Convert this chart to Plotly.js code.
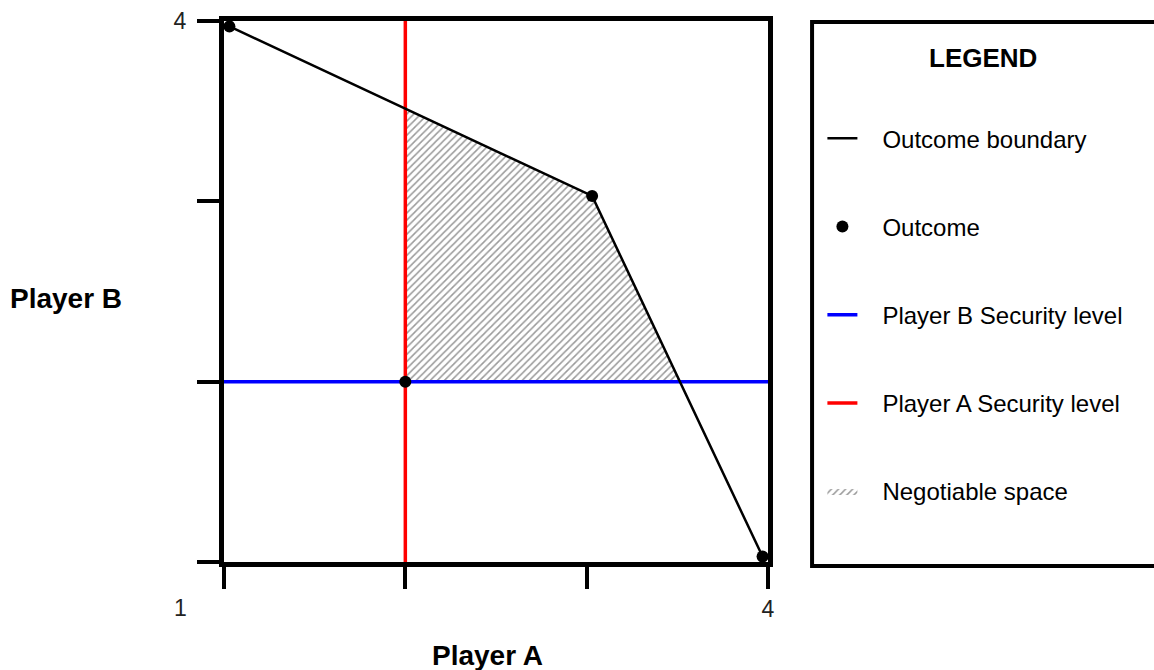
<!DOCTYPE html>
<html>
<head>
<meta charset="utf-8">
<script src="https://cdn.plot.ly/plotly-3.0.1.min.js"></script>
<style>html,body{margin:0;padding:0;background:#fff;}#chart{width:1154px;height:670px;}</style>
</head>
<body>
<div id="chart"></div>
<script>
// ---- data ----
const boundaryA = [1.03, 3.03, 3.97];      // outcome boundary, Player A payoff
const boundaryB = [3.97, 3.03, 1.03];      // outcome boundary, Player B payoff
const outcomeA  = [1.03, 3.03, 2, 3.97];   // outcomes, Player A payoff
const outcomeB  = [3.97, 3.03, 2, 1.03];   // outcomes, Player B payoff
const securityA = 2;                       // Player A security level
const securityB = 2;                       // Player B security level
const axisRange = [1, 4];
const tickVals  = [1, 2, 3, 4];
const tickText  = ['', '', '', '4'];
const originLabel = '1';
const legendNames = ['Outcome boundary', 'Outcome', 'Player B Security level', 'Player A Security level', 'Negotiable space'];

// negotiable space: region above both security levels and below the boundary
function interpY(x0, y0, x1, y1, x) { return y0 + (x - x0) * (y1 - y0) / (x1 - x0); }
function interpX(x0, y0, x1, y1, y) { return x0 + (y - y0) * (x1 - x0) / (y1 - y0); }
const topY = interpY(boundaryA[0], boundaryB[0], boundaryA[1], boundaryB[1], securityA);
const rightX = interpX(boundaryA[1], boundaryB[1], boundaryA[2], boundaryB[2], securityB);
const negA = [securityA, securityA, boundaryA[1], rightX, securityA];
const negB = [securityB, topY, boundaryB[1], securityB, securityB];

const FONT = 'Liberation Sans, Arial, sans-serif';
const pad = '\u00a0\u00a0\u00a0';

const traces = [
  {
    name: pad + legendNames[4], x: negA, y: negB, mode: 'lines', fill: 'toself',
    fillcolor: 'white',
    fillpattern: {shape: '/', fgcolor: '#9a9a9a', bgcolor: 'white', size: 5, solidity: 0.3},
    line: {color: 'rgba(120,120,120,0)', width: 0},
    legendgroup: 'g5', legendrank: 5, hoverinfo: 'skip'
  },
  {
    name: pad + legendNames[2], x: axisRange, y: [securityB, securityB], mode: 'lines',
    line: {color: '#0000ff', width: 3.5}, legendgroup: 'g3', legendrank: 3
  },
  {
    name: pad + legendNames[3], x: [securityA, securityA], y: axisRange, mode: 'lines',
    line: {color: '#ff0000', width: 3.5}, legendgroup: 'g4', legendrank: 4
  },
  {
    name: pad + legendNames[0], x: boundaryA, y: boundaryB, mode: 'lines',
    line: {color: '#000000', width: 2.5}, legendgroup: 'g1', legendrank: 1
  },
  {
    name: pad + legendNames[1], x: outcomeA, y: outcomeB, mode: 'markers',
    marker: {color: '#000000', size: 12}, legendgroup: 'g2', legendrank: 2
  }
];

const axisCommon = {
  range: axisRange, showgrid: false, zeroline: false,
  showline: true, linewidth: 5, linecolor: '#000', mirror: true,
  ticks: 'outside', ticklen: 22, tickwidth: 4, tickcolor: '#000',
  tickmode: 'array', tickvals: tickVals, ticktext: tickText,
  tickfont: {family: FONT, size: 23, color: '#222'}, fixedrange: true
};

const layout = {
  width: 1154, height: 670,
  margin: {l: 224, r: 386, t: 21, b: 108},
  paper_bgcolor: '#fff', plot_bgcolor: '#fff',
  font: {family: FONT, color: '#000'},
  showlegend: true,
  xaxis: Object.assign({}, axisCommon, {ticklabelstandoff: 0}),
  yaxis: Object.assign({}, axisCommon, {ticklabelstandoff: 6}),
  legend: {
    x: 1.1, xanchor: 'left', y: 0.824, yanchor: 'top',
    bgcolor: 'rgba(0,0,0,0)', borderwidth: 0,
    font: {family: FONT, size: 24, color: '#000'},
    itemwidth: 30, traceorder: 'grouped', tracegroupgap: 54
  },
  shapes: [{
    type: 'rect', xref: 'paper', yref: 'paper',
    x0: 1.081, x1: 1.75, y0: -0.0074, y1: 0.998,
    line: {color: '#000', width: 4}, fillcolor: 'rgba(0,0,0,0)', layer: 'above'
  }],
  annotations: [
    {text: '<b>LEGEND</b>', xref: 'paper', yref: 'paper', x: 1.395, y: 0.932,
     xanchor: 'center', yanchor: 'middle',
     showarrow: false, font: {family: FONT, size: 26, color: '#000'}},
    {text: '<b>Player A</b>', xref: 'paper', yref: 'paper', x: 0.485, y: -0.172,
     xanchor: 'center', yanchor: 'middle',
     showarrow: false, font: {family: FONT, size: 28, color: '#000'}},
    {text: '<b>Player B</b>', xref: 'paper', yref: 'paper', x: -0.29, y: 0.487,
     xanchor: 'center', yanchor: 'middle',
     showarrow: false, font: {family: FONT, size: 28, color: '#000'}},
    {text: originLabel, xref: 'x', yref: 'y', x: axisRange[0], y: axisRange[0],
     xshift: -44, yshift: -46, showarrow: false, font: {family: FONT, size: 23, color: '#222'}}
  ]
};

Plotly.newPlot('chart', traces, layout, {displayModeBar: false, staticPlot: true});
</script>
</body>
</html>
